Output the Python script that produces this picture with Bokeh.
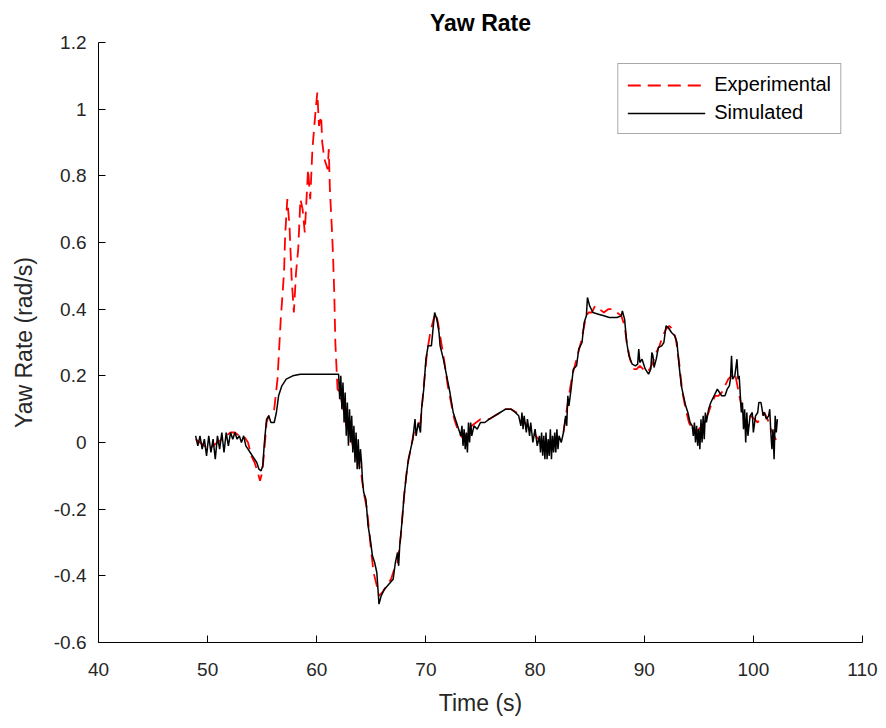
from bokeh.plotting import figure
from bokeh.models import FixedTicker, CustomJSTickFormatter, Legend, LegendItem, Range1d
from bokeh.embed import file_html
from bokeh.resources import INLINE

# Simulated (black) series
sim_t = [48.9, 49.1, 49.3, 49.5, 49.7, 49.9, 50.1, 50.3, 50.5, 50.7, 50.9, 51.1, 51.3, 51.5, 51.7, 51.9,
         52.1, 52.3, 52.5, 52.7, 52.9, 53.1, 53.3, 53.5, 53.7, 53.9, 54.1, 54.3, 54.5, 54.7, 54.9, 55.05,
         55.2, 55.4, 55.6, 55.8, 56.1, 56.3, 56.5, 56.8, 57.2, 57.8, 58.5, 60.0, 61.5, 62.0,
         62.1, 62.2, 62.3, 62.4, 62.5, 62.6, 62.7, 62.8, 62.9, 63.0, 63.1, 63.2, 63.3, 63.4, 63.5, 63.6,
         63.7, 63.8, 63.9, 64.0, 64.1, 64.2, 64.3, 64.5, 64.7, 64.9, 65.1, 65.3, 65.5, 65.7, 65.9, 66.2,
         66.6, 67.0, 67.2, 67.4, 67.5, 67.6, 67.8, 68.0, 68.2, 68.4, 68.6, 68.8, 69.0, 69.1, 69.3, 69.5,
         69.6, 69.8, 70.0, 70.2, 70.5, 70.8, 71.0, 71.2, 71.3, 71.6, 71.9, 72.2, 72.5, 72.8, 73.0, 73.2,
         73.3, 73.4, 73.5, 73.6, 73.7, 73.8, 73.9, 74.0, 74.1, 74.2, 74.4, 74.7, 75.0, 75.4, 75.8, 76.3,
         76.8, 77.3, 77.8, 78.2, 78.5, 78.7, 78.8, 78.9, 79.0, 79.2, 79.3, 79.5, 79.6, 79.8, 80.0, 80.2,
         80.4, 80.5, 80.6, 80.7, 80.8, 80.9, 81.0, 81.1, 81.2, 81.3, 81.4, 81.5, 81.6, 81.7, 81.8, 81.9,
         82.0, 82.1, 82.2, 82.4, 82.6, 82.8, 82.9, 83.0, 83.1, 83.3, 83.5, 83.8, 84.0, 84.3, 84.5, 84.7,
         84.8, 85.0, 85.3, 85.8, 86.3, 86.8, 87.5, 87.9, 88.0, 88.2, 88.4, 88.6, 88.9, 89.2, 89.4, 89.5,
         89.6, 89.8, 90.1, 90.4, 90.6, 90.7, 90.8, 90.9, 91.1, 91.3, 91.6, 91.8, 92.0, 92.2, 92.5, 92.8,
         93.0, 93.2, 93.4, 93.6, 93.8, 94.0, 94.2, 94.4, 94.5, 94.6, 94.7, 94.8, 94.9, 95.0, 95.1, 95.2,
         95.3, 95.4, 95.5, 95.6, 95.7, 95.9, 96.1, 96.4, 96.7, 96.9, 97.1, 97.4, 97.6, 97.8, 97.9, 98.0,
         98.1, 98.3, 98.5, 98.6, 98.7, 98.9, 99.0, 99.1, 99.2, 99.3, 99.4, 99.5, 99.7, 99.9, 100.0, 100.2,
         100.4, 100.5, 100.7, 100.9, 101.0, 101.2, 101.4, 101.5, 101.6, 101.7, 101.8, 101.9, 102.0, 102.1, 102.2]
sim_v = [0.02, -0.01, 0.02, -0.02, 0.01, -0.04, 0.02, -0.03, 0.01, -0.05, 0.02, -0.02, 0.03, -0.03, 0.03, -0.01,
         0.03, 0.01, 0.03, 0.01, 0.02, 0.0, 0.02, -0.01, -0.02, -0.03, -0.04, -0.05, -0.06, -0.08, -0.085, -0.07,
         0.0, 0.07, 0.08, 0.06, 0.06, 0.09, 0.14, 0.17, 0.19, 0.2, 0.205, 0.205, 0.205, 0.205,
         0.13, 0.2, 0.10, 0.18, 0.06, 0.15, 0.02, 0.12, -0.01, 0.10, 0.0, 0.08, -0.03, 0.05, -0.06, 0.03,
         -0.08, 0.01, -0.08, -0.02, -0.06, -0.12, -0.15, -0.17, -0.25, -0.29, -0.34, -0.36, -0.39, -0.485, -0.46, -0.44,
         -0.425, -0.41, -0.36, -0.33, -0.37, -0.31, -0.24, -0.16, -0.1, -0.05, -0.02, 0.01, 0.07, 0.02, 0.06, 0.03,
         0.1, 0.16, 0.25, 0.29, 0.29, 0.39, 0.37, 0.33, 0.29, 0.25, 0.2, 0.15, 0.09, 0.06, 0.04, 0.02,
         0.05, -0.01, 0.04, -0.02, 0.03, -0.03, 0.06, 0.0, 0.06, 0.02, 0.05, 0.04, 0.06, 0.06, 0.07, 0.08,
         0.09, 0.1, 0.1, 0.09, 0.08, 0.05, 0.09, 0.04, 0.08, 0.03, 0.07, 0.02, 0.06, 0.0, 0.04, -0.01,
         0.02, -0.03, 0.03, -0.04, 0.02, -0.05, 0.03, -0.05, 0.01, -0.04, 0.04, -0.05, 0.02, -0.03, 0.03, -0.03,
         0.04, -0.02, 0.02, 0.0, 0.03, 0.08, 0.05, 0.14, 0.11, 0.16, 0.22, 0.23, 0.28, 0.3, 0.36, 0.38,
         0.435, 0.41, 0.39, 0.385, 0.38, 0.375, 0.375, 0.38, 0.395, 0.37, 0.3, 0.26, 0.235, 0.23, 0.235, 0.28,
         0.24, 0.25, 0.22, 0.205, 0.22, 0.27, 0.26, 0.225, 0.25, 0.285, 0.29, 0.3, 0.35, 0.345, 0.33, 0.32,
         0.3, 0.23, 0.17, 0.14, 0.11, 0.09, 0.06, 0.05, 0.02, 0.06, 0.0, 0.05, -0.01, 0.04, -0.02, 0.07,
         0.0, 0.08, 0.01, 0.09, 0.06, 0.1, 0.12, 0.14, 0.16, 0.15, 0.14, 0.14, 0.16, 0.17, 0.19, 0.26,
         0.19, 0.2, 0.25, 0.19, 0.2, 0.09, 0.12, 0.04, 0.1, 0.0, 0.09, 0.02, 0.08, 0.09, 0.03, 0.08,
         0.09, 0.12, 0.12, 0.08, 0.09, 0.07, 0.08, 0.1, 0.03, -0.02, 0.04, -0.05, 0.08, 0.03, 0.07]

# Experimental (red dashed) series
exp_t = [48.9, 49.3, 49.7, 50.1, 50.5, 50.9, 51.3, 51.7, 52.1, 52.5, 52.9, 53.3, 53.7, 54.0, 54.3, 54.6,
         54.8, 55.0, 55.2, 55.4, 55.6, 55.9, 56.1, 56.4, 56.7, 57.0, 57.1, 57.3, 57.5, 57.7, 57.9, 58.1,
         58.3, 58.5, 58.7, 58.9, 59.2, 59.4, 59.6, 59.9, 60.05, 60.2, 60.4, 60.5, 60.7, 61.0, 61.1, 61.2,
         61.4, 61.5, 61.6, 61.7, 61.9, 62.1, 62.3, 62.5, 62.7, 62.9, 63.1, 63.3, 63.5, 63.7, 63.9, 64.1,
         64.3, 64.6, 64.9, 65.2, 65.5, 65.7, 66.0, 66.4, 66.8, 67.1, 67.4, 67.7, 68.0, 68.3, 68.6, 68.9,
         69.2, 69.5, 69.8, 70.1, 70.4, 70.7, 70.9, 71.1, 71.4, 71.7, 72.0, 72.3, 72.6, 72.9, 73.2, 73.5,
         73.8, 74.2, 74.6, 75.0, 75.4, 75.8, 76.3, 76.8, 77.3, 77.8, 78.3, 78.8, 79.3, 79.8, 80.3, 80.8,
         81.3, 81.8, 82.2, 82.6, 83.0, 83.4, 83.8, 84.2, 84.5, 84.7, 84.9, 85.2, 85.5, 85.9, 86.3, 86.7,
         87.1, 87.5, 87.9, 88.2, 88.4, 88.7, 89.0, 89.3, 89.6, 89.9, 90.2, 90.5, 90.8, 91.1, 91.4, 91.7,
         92.0, 92.3, 92.6, 92.9, 93.2, 93.5, 93.8, 94.1, 94.4, 94.7, 95.0, 95.3, 95.6, 95.9, 96.2, 96.5,
         96.8, 97.1, 97.4, 97.7, 98.0, 98.3, 98.6, 98.9, 99.2, 99.5, 99.8, 100.1, 100.4, 100.7, 101.0, 101.3,
         101.6, 101.9, 102.2]
exp_v = [0.01, 0.0, -0.01, -0.02, -0.01, 0.0, 0.01, 0.02, 0.03, 0.03, 0.02, 0.02, 0.0, -0.04, -0.06, -0.09,
         -0.115, -0.09, -0.02, 0.06, 0.08, 0.09, 0.1, 0.19, 0.37, 0.51, 0.62, 0.73, 0.65, 0.49, 0.39, 0.51,
         0.58, 0.73, 0.7, 0.63, 0.82, 0.73, 0.88, 1.0, 1.05, 0.95, 0.98, 0.9, 0.85, 0.82, 0.88, 0.76,
         0.63, 0.55, 0.45, 0.3, 0.16, 0.15, 0.12, 0.09, 0.05, 0.04, 0.02, -0.01, -0.03, -0.05, -0.07, -0.1,
         -0.15, -0.2, -0.3, -0.39, -0.43, -0.46, -0.45, -0.43, -0.41, -0.38, -0.36, -0.28, -0.16, -0.07, -0.02, 0.03,
         0.05, 0.06, 0.17, 0.27, 0.33, 0.37, 0.39, 0.36, 0.3, 0.24, 0.17, 0.12, 0.07, 0.04, 0.02, 0.01,
         0.03, 0.05, 0.06, 0.07, 0.07, 0.07, 0.08, 0.09, 0.1, 0.1, 0.09, 0.07, 0.05, 0.03, 0.01, 0.0,
         -0.01, 0.0, 0.01, 0.03, 0.12, 0.2, 0.25, 0.3, 0.35, 0.38, 0.39, 0.39, 0.41, 0.4, 0.39, 0.4,
         0.4, 0.39, 0.38, 0.35, 0.3, 0.25, 0.22, 0.22, 0.23, 0.22, 0.21, 0.22, 0.24, 0.27, 0.29, 0.32,
         0.34, 0.35, 0.34, 0.31, 0.24, 0.15, 0.1, 0.06, 0.04, 0.03, 0.04, 0.05, 0.07, 0.09, 0.12, 0.14,
         0.14, 0.15, 0.17, 0.19, 0.2, 0.21, 0.16, 0.11, 0.07, 0.05, 0.08, 0.07, 0.06, 0.08, 0.09, 0.07,
         0.04, 0.02, 0.0]

x_ticks = [40, 50, 60, 70, 80, 90, 100, 110]
y_ticks = [-0.6, -0.4, -0.2, 0.0, 0.2, 0.4, 0.6, 0.8, 1.0, 1.2]

FONT = "Liberation Sans"
TXT = "#262626"

p = figure(width=886, height=728, output_backend="svg", toolbar_location=None,
           x_range=Range1d(40, 110), y_range=Range1d(-0.6, 1.2),
           min_border_left=98, min_border_right=24, min_border_top=42, min_border_bottom=86)

p.title.text = "Yaw Rate"
p.title.align = "center"
p.title.text_font = FONT
p.title.text_font_size = "23px"
p.title.text_font_style = "bold"
p.title.text_color = "#000000"
p.title.offset = 0
p.title.standoff = 14

p.outline_line_color = None
p.xgrid.visible = False
p.ygrid.visible = False
p.background_fill_color = "white"
p.border_fill_color = "white"

r_exp = p.line(exp_t, exp_v, line_color="#ff0000", line_width=1.8, line_dash="13 7")
r_sim = p.line(sim_t, sim_v, line_color="#000000", line_width=1.5)

for ax in (p.xaxis[0], p.yaxis[0]):
    ax.axis_line_color = "#000000"
    ax.axis_line_width = 1
    ax.major_tick_in = 7
    ax.major_tick_out = 0
    ax.minor_tick_line_color = None
    ax.major_tick_line_color = "#000000"
    ax.major_label_text_font = FONT
    ax.major_label_text_font_size = "19px"
    ax.major_label_text_color = TXT
    ax.axis_label_text_font = FONT
    ax.axis_label_text_font_size = "23px"
    ax.axis_label_text_font_style = "normal"
    ax.axis_label_text_color = TXT

p.xaxis[0].ticker = FixedTicker(ticks=x_ticks)
p.yaxis[0].ticker = FixedTicker(ticks=y_ticks)
p.yaxis[0].formatter = CustomJSTickFormatter(code="return tick.toFixed(1).replace(/\\.0$/, '');")
p.xaxis[0].major_label_standoff = 20
p.yaxis[0].major_label_standoff = 12
p.xaxis[0].axis_label = "Time (s)"
p.yaxis[0].axis_label = "Yaw Rate (rad/s)"
p.xaxis[0].axis_label_standoff = 11
p.yaxis[0].axis_label_standoff = 14

legend = Legend(items=[LegendItem(label="Experimental", renderers=[r_exp]),
                       LegendItem(label="Simulated", renderers=[r_sim])],
                location="top_right")
legend.margin = 21
legend.border_line_color = "#555555"
legend.border_line_width = 1
legend.background_fill_color = "white"
legend.background_fill_alpha = 1
legend.label_text_font = FONT
legend.label_text_font_size = "20px"
legend.label_text_color = "#000000"
legend.glyph_width = 78
legend.glyph_height = 22
legend.label_height = 22
legend.spacing = 5
legend.padding = 9
legend.label_standoff = 9
p.add_layout(legend)

open("out.html", "w").write(file_html(p, INLINE))
